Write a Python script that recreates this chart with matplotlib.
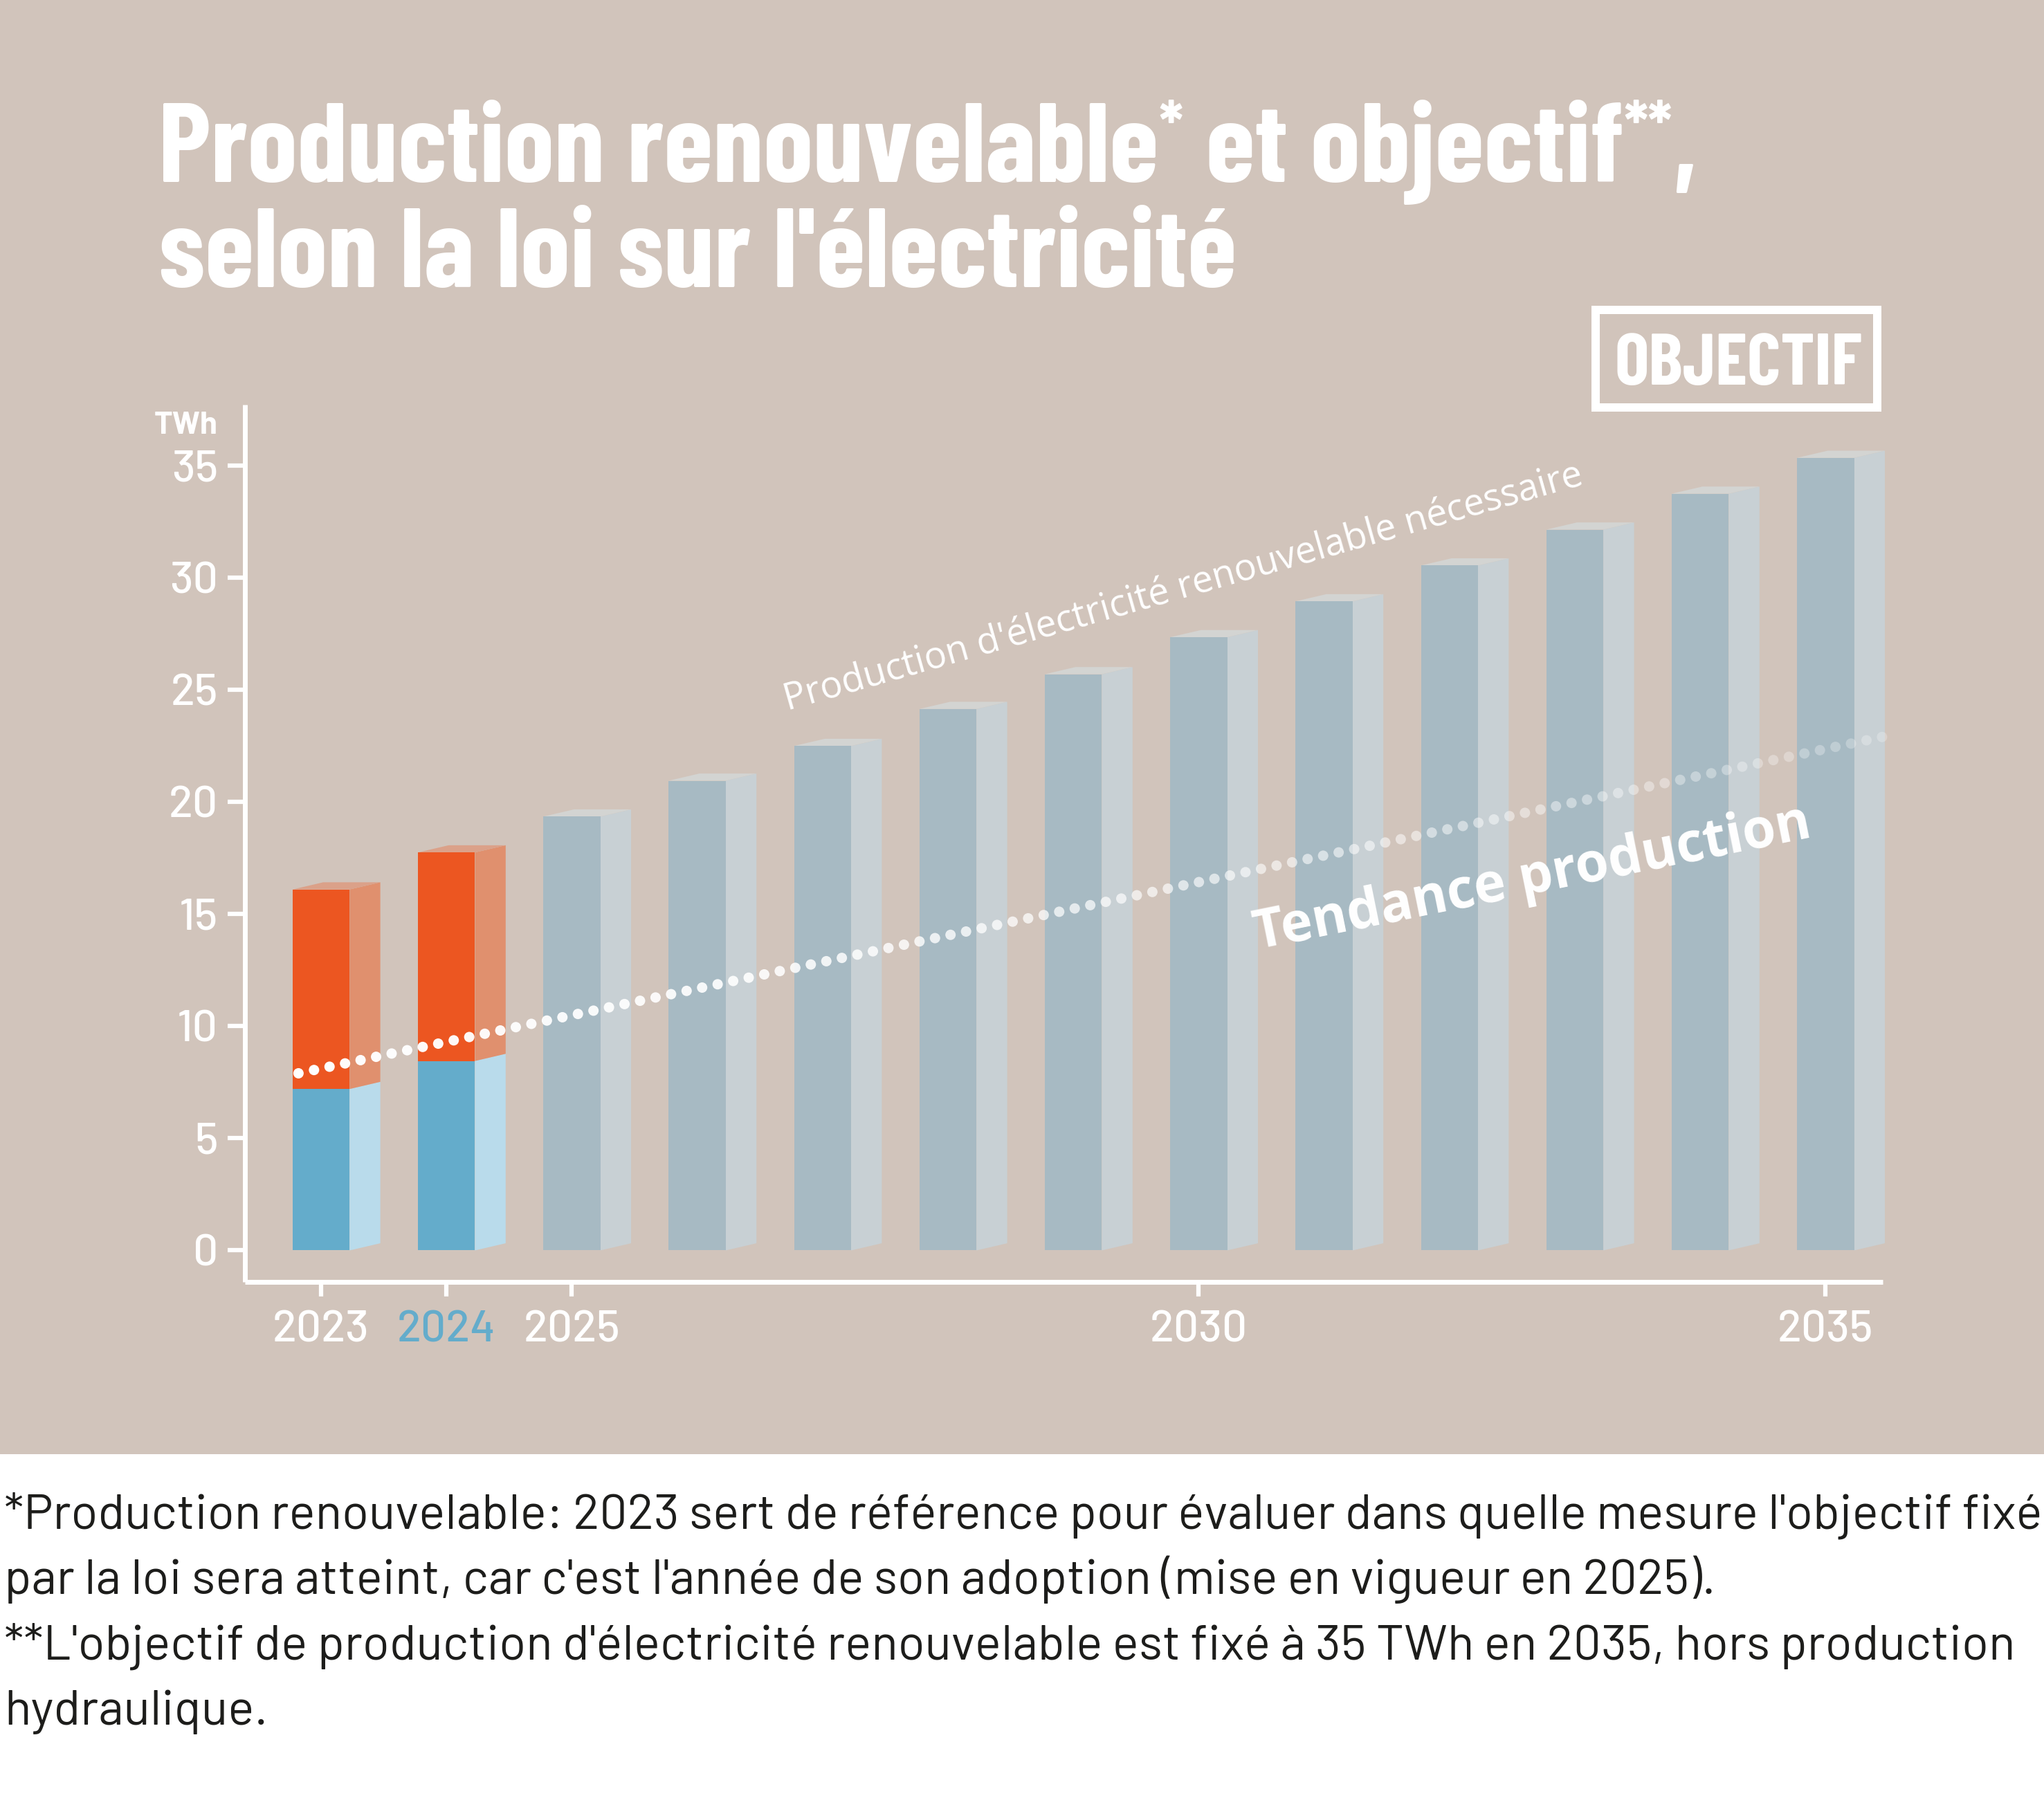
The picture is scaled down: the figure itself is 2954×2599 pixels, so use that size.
import matplotlib
matplotlib.use('Agg')
import matplotlib.pyplot as plt
from matplotlib import font_manager as fm
from matplotlib.patches import Polygon, Rectangle
from matplotlib.transforms import IdentityTransform
import numpy as np

W, H, DPI = 2954, 2599, 100

# ---- data (TWh) ----
years_real = [2023, 2024]
blue_twh = [7.2, 8.45]
orange_twh = [8.9, 9.3]
years_goal = [2025, 2026, 2027, 2028, 2029, 2030, 2031, 2032, 2033, 2034, 2035]
goal_twh = [19.35, 20.95, 22.5, 24.15, 25.7, 27.35, 28.95, 30.55, 32.15, 33.75, 35.35]
trend_years = [2022.82, 2035.45]
trend_twh = [7.9, 22.9]
xticks = [2023, 2024, 2025, 2030, 2035]
yticks = [0, 5, 10, 15, 20, 25, 30, 35]

BG = '#D1C4BB'
GRAY_F, GRAY_S, GRAY_T = '#A7BAC3', '#C8D0D4', '#D3D4D2'
BLUE_F, BLUE_S = '#64ACCB', '#B9DBEB'
ORANGE_F, ORANGE_S, ORANGE_T = '#EC5621', '#E0906E', '#DBA189'

# fonts
names = {f.name for f in fm.fontManager.ttflist}
COND = next((n for n in ['Barlow Condensed', 'Roboto Condensed'] if n in names), 'DejaVu Sans')
NUM = next((n for n in ['Barlow', 'Roboto'] if n in names), 'DejaVu Sans')
SANS = 'Open Sans'

fig = plt.figure(figsize=(W / DPI, H / DPI), dpi=DPI, facecolor='white')
renderer = fig.canvas.get_renderer()
fig.patches.append(Rectangle((0, 1 - 2102 / H), 1, 2102 / H, transform=fig.transFigure,
                             facecolor=BG, edgecolor='none', zorder=-5))


def fit(text, target_px, **kw):
    t = fig.text(0, 0, text, fontsize=100, **kw)
    w = t.get_window_extent(renderer).width
    t.remove()
    return 100 * target_px / w


def px(x, y):
    # image pixel (top-left origin) -> display
    return x, H - y


# ---- axes ----
ax = fig.add_axes([354 / W, 1 - 1853 / H, (2721 - 354) / W, (1853 - 585) / H])
ax.set_facecolor('none')
ax.set_xlim(2022.393, 2035.456)
ax.set_ylim(-1.404, 37.72)
for s in ['top', 'right']:
    ax.spines[s].set_visible(False)
for s in ['left', 'bottom']:
    ax.spines[s].set_color('white')
    ax.spines[s].set_linewidth(5)
    ax.spines[s].set_capstyle('butt')

tick_size = fit('2023', 140, family=NUM, weight='medium')
ax.set_yticks(yticks)
ax.set_xticks(xticks)
ax.set_xticklabels([str(y) for y in xticks])
ax.tick_params(axis='y', length=18, width=4.5, color='white', pad=10,
               labelsize=tick_size, labelcolor='white')
ax.tick_params(axis='x', length=15, width=4.5, color='white', pad=15,
               labelsize=tick_size, labelcolor='white')
for lab in ax.get_xticklabels() + ax.get_yticklabels():
    lab.set_family(NUM)
    lab.set_weight('medium')
ax.get_xticklabels()[1].set_color(BLUE_F)
ax.xaxis.get_major_ticks()[1].tick1line.set_color(BLUE_F)

# ---- 3d bars ----
bw, dx, dy = 0.455, 0.245, 0.32


def side(x, y0, y1, color):
    xr = x + bw / 2
    ax.add_patch(Polygon([(xr, y0), (xr + dx, y0 + dy), (xr + dx, y1 + dy), (xr, y1)],
                         closed=True, facecolor=color, edgecolor='none', clip_on=False, zorder=2))


def top(x, y, color):
    xl, xr = x - bw / 2, x + bw / 2
    ax.add_patch(Polygon([(xl, y), (xr, y), (xr + dx, y + dy), (xl + dx, y + dy)],
                         closed=True, facecolor=color, edgecolor='none', clip_on=False, zorder=2))


ax.bar(years_goal, goal_twh, width=bw, color=GRAY_F, zorder=3)
for x, v in zip(years_goal, goal_twh):
    side(x, 0, v, GRAY_S)
    top(x, v, GRAY_T)

ax.bar(years_real, blue_twh, width=bw, color=BLUE_F, zorder=3)
ax.bar(years_real, orange_twh, bottom=blue_twh, width=bw, color=ORANGE_F, zorder=3)
for x, b, o in zip(years_real, blue_twh, orange_twh):
    side(x, 0, b, BLUE_S)
    side(x, b, b + o, ORANGE_S)
    top(x, b + o, ORANGE_T)

# ---- fading dotted trend line ----
p0 = ax.transData.transform((trend_years[0], trend_twh[0]))
p1 = ax.transData.transform((trend_years[1], trend_twh[1]))
n_dots = int(np.hypot(*(p1 - p0)) / 22.9) + 1
t = np.linspace(0, 1, n_dots)
dot_x = trend_years[0] + t * (trend_years[1] - trend_years[0])
dot_y = trend_twh[0] + t * (trend_twh[1] - trend_twh[0])
alphas = np.interp(t, [0, 0.28, 1], [1, 0.9, 0.25])
ax.scatter(dot_x, dot_y, s=(15 * 72 / DPI) ** 2, color=[(1, 1, 1, a) for a in alphas],
           edgecolors='none', zorder=5, clip_on=False)

# ---- texts ----
fig.text(*px(315, 627), 'TWh', transform=IdentityTransform(), ha='right', va='baseline',
         fontsize=fit('TWh', 92, family=NUM, weight='bold'), weight='bold', family=NUM,
         color='white')

ang1 = np.degrees(np.arctan2(1027 - 700, 2290 - 1138))
s1 = fit("Production d'électricité renouvelable nécessaire", 1197, family=SANS, weight='medium')
fig.text(*px(1714, 863), "Production d'électricité renouvelable nécessaire",
         transform=IdentityTransform(), rotation=ang1, rotation_mode='anchor',
         ha='center', va='baseline', fontsize=s1, family=SANS, weight='medium',
         color='white', zorder=6)

ang2 = np.degrees(np.arctan2(1372 - 1210, 2619 - 1819))
s2 = fit('Tendance production', 820, family=SANS, weight='bold')
fig.text(*px(2219, 1291), 'Tendance production', transform=IdentityTransform(),
         rotation=ang2, rotation_mode='anchor', ha='center', va='baseline',
         fontsize=s2, family=SANS, weight='bold', color='white', zorder=6)

# OBJECTIF box
fig.patches.append(Rectangle((2306 / W, 1 - 589 / H), (2713 - 2306) / W, (589 - 448) / H,
                             transform=fig.transFigure, facecolor='none', edgecolor='white',
                             linewidth=12 * 72 / DPI, zorder=3))
s3 = fit('OBJECTIF', 358, family=COND, weight='bold')
fig.text(*px(2512, 556), 'OBJECTIF', transform=IdentityTransform(), ha='center',
         va='baseline', fontsize=s3, family=COND, weight='bold', color='white')

# title with raised asterisks
ts = fit('Production renouvelable', 1445, family=COND, weight='bold')
cap = ts * DPI / 72 * 0.7


def runs(x, y, parts):
    for s, size, rise in parts:
        tt = fig.text(x, y + rise, s, transform=IdentityTransform(), ha='left', va='baseline',
                      fontsize=size, family=COND, weight='bold', color='white')
        x = tt.get_window_extent(renderer).x1


small = ts * 0.6
rise = cap * 0.4
runs(*px(229, 263), [('Production renouvelable', ts, 0), ('*', small, rise),
                     (' et objectif', ts, 0), ('**', small, rise), (',', ts, 0)])
runs(*px(229, 415), [("selon la loi sur l'électricité", ts, 0)])

# footnotes
notes = ["*Production renouvelable: 2023 sert de référence pour évaluer dans quelle mesure l'objectif fixé",
         "par la loi sera atteint, car c'est l'année de son adoption (mise en vigueur en 2025).",
         "**L'objectif de production d'électricité renouvelable est fixé à 35 TWh en 2035, hors production",
         "hydraulique."]
fs = fit(notes[0], 2942, family=NUM)
for i, line in enumerate(notes):
    fig.text(*px(6, 2210 + i * 94.3), line, transform=IdentityTransform(), ha='left',
             va='baseline', fontsize=fs, family=NUM, color='#1D1D1B')

fig.savefig('out.png', dpi=DPI, facecolor='white')
